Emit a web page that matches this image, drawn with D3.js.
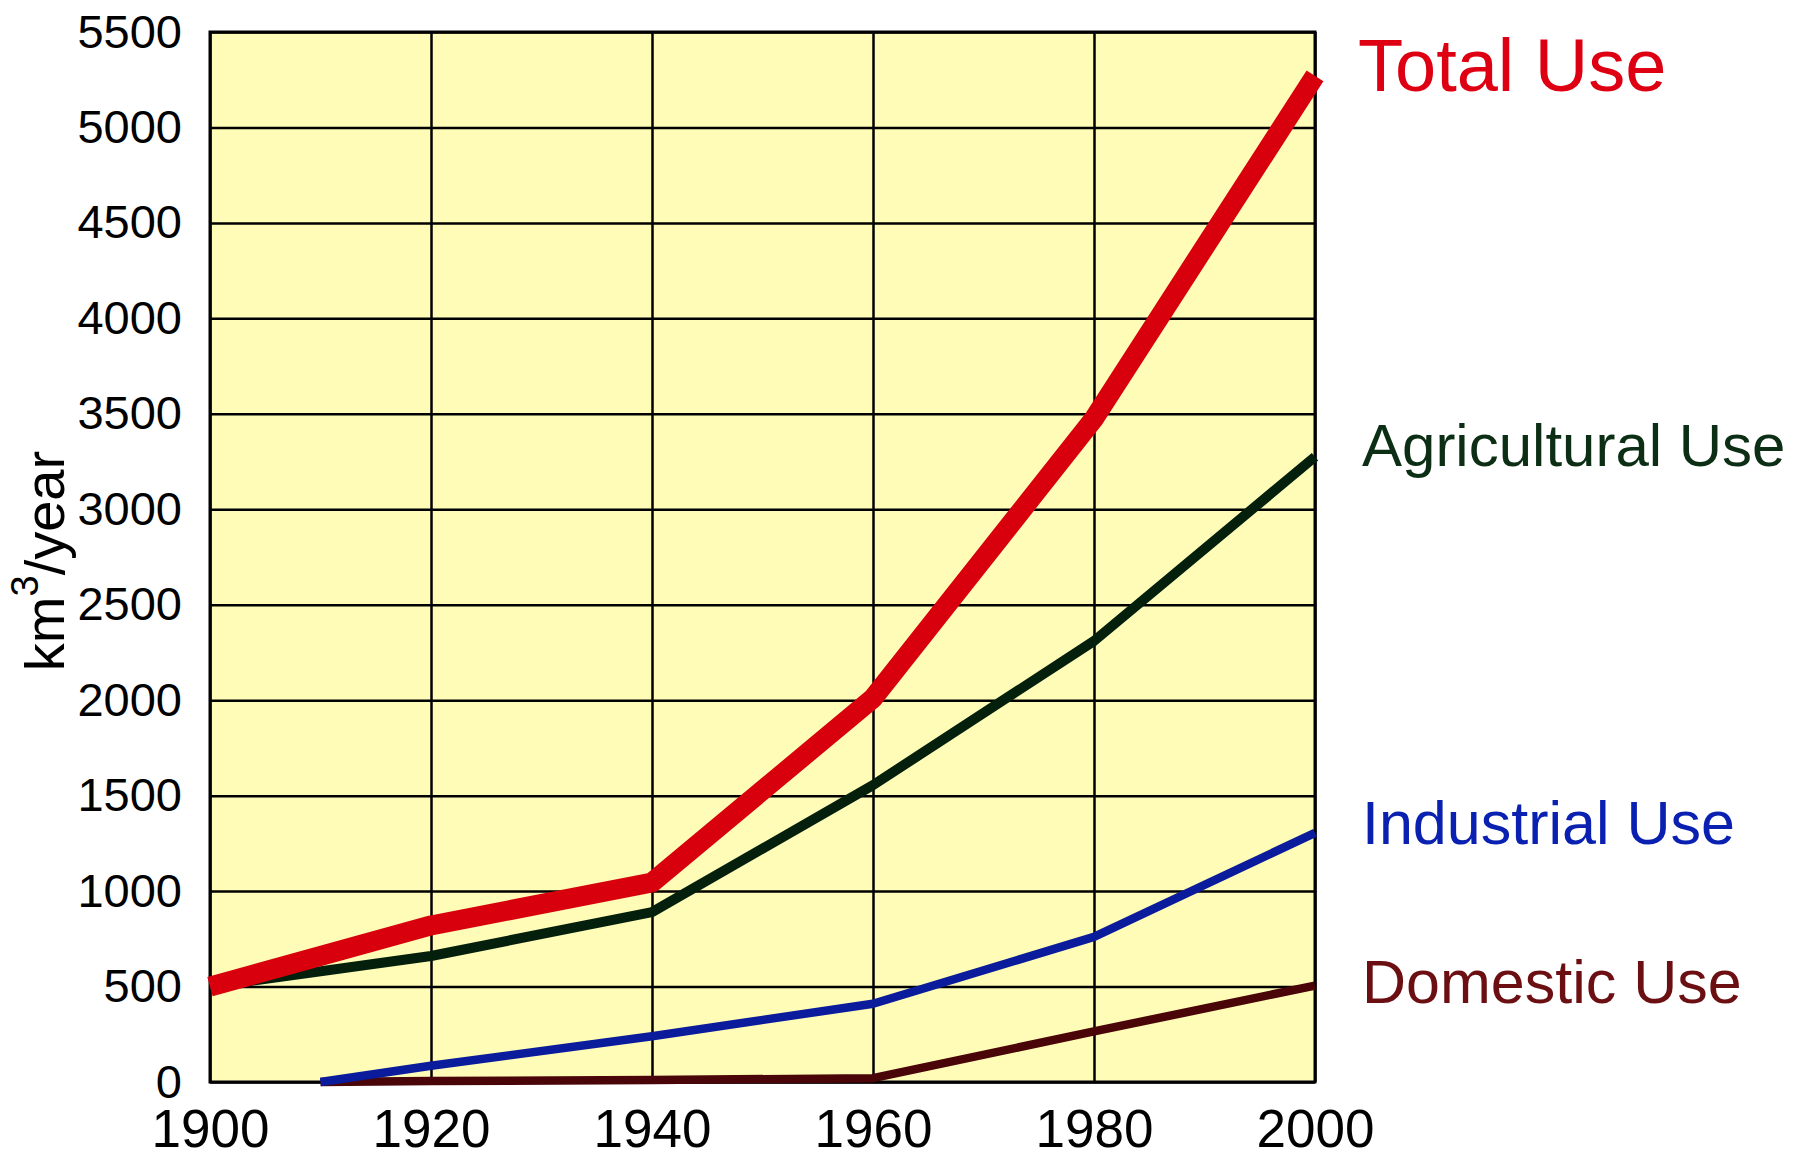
<!DOCTYPE html>
<html>
<head>
<meta charset="utf-8">
<script src="https://cdn.jsdelivr.net/npm/d3@7"></script>
<style>
    body { margin: 0; background: #ffffff; }
    text { font-family: "Liberation Sans", Arial, Helvetica, sans-serif; }
</style>
</head>
<body>
<div id="vis"></div>
<script>
// values (km3 per year)
const years = [1900, 1920, 1940, 1960, 1980, 2000];
const totalUse = [500, 820, 1045, 2010, 3475, 5270];
const agriculturalUse = [500, 660, 890, 1555, 2310, 3275];

// industrial and domestic only start at 1910
const laterYears = [1910, 1920, 1940, 1960, 1980, 2000];
const industrialUse = [0, 85, 240, 410, 760, 1305];
const domesticUse = [0, 5, 10, 20, 265, 505];

const yTicks = [0, 500, 1000, 1500, 2000, 2500, 3000, 3500, 4000, 4500, 5000, 5500];
const xTicks = [1900, 1920, 1940, 1960, 1980, 2000];

const seriesNames = ["Total Use", "Agricultural Use", "Industrial Use", "Domestic Use"];

function createVis() {
    const width = 1805;
    const height = 1159;
    const margin = {top: 32, right: 490, bottom: 77, left: 210};
    const innerW = width - margin.left - margin.right;
    const innerH = height - margin.top - margin.bottom;

    const svg = d3.select("#vis").append("svg")
        .attr("width", width)
        .attr("height", height);

    const xScale = d3.scaleLinear()
        .domain([1900, 2000])
        .range([margin.left, margin.left + innerW]);

    const yScale = d3.scaleLinear()
        .domain([0, 5500])
        .range([margin.top + innerH, margin.top]);

    // yellow plot area
    svg.append("rect")
        .attr("x", margin.left)
        .attr("y", margin.top)
        .attr("width", innerW)
        .attr("height", innerH)
        .attr("fill", "#fffcb8");

    // grid lines
    const xGrid = d3.axisBottom(xScale).tickValues(xTicks).tickSize(-innerH).tickFormat("");
    const yGrid = d3.axisLeft(yScale).tickValues(yTicks).tickSize(-innerW).tickFormat("");

    svg.append("g")
        .attr("transform", `translate(0,${margin.top + innerH})`)
        .call(xGrid)
        .call(g => g.select(".domain").remove())
        .call(g => g.selectAll("line").attr("stroke", "#000").attr("stroke-width", 2.5));

    svg.append("g")
        .attr("transform", `translate(${margin.left},0)`)
        .call(yGrid)
        .call(g => g.select(".domain").remove())
        .call(g => g.selectAll("line").attr("stroke", "#000").attr("stroke-width", 2.5));

    // frame
    svg.append("rect")
        .attr("x", margin.left)
        .attr("y", margin.top)
        .attr("width", innerW)
        .attr("height", innerH)
        .attr("fill", "none")
        .attr("stroke", "#000")
        .attr("stroke-width", 3);

    // tick labels
    const yAxis = d3.axisLeft(yScale).tickValues(yTicks).tickSize(0).tickPadding(28).tickFormat(d => d);
    svg.append("g")
        .attr("transform", `translate(${margin.left},0)`)
        .call(yAxis)
        .call(g => g.select(".domain").remove())
        .call(g => g.selectAll("text")
            .attr("font-size", "47px")
            .attr("fill", "#000")
            .style("font-family", "'Liberation Sans', Arial, sans-serif"));

    const xAxis = d3.axisBottom(xScale).tickValues(xTicks).tickSize(0).tickPadding(27).tickFormat(d => d);
    svg.append("g")
        .attr("transform", `translate(0,${margin.top + innerH})`)
        .call(xAxis)
        .call(g => g.select(".domain").remove())
        .call(g => g.selectAll("text")
            .attr("font-size", "53px")
            .attr("fill", "#000")
            .style("font-family", "'Liberation Sans', Arial, sans-serif"));

    // y axis title, rotated, with superscript 3
    const yTitle = svg.append("text")
        .attr("transform", "translate(64,561) rotate(-90)")
        .attr("text-anchor", "middle")
        .attr("font-size", "56px")
        .attr("fill", "#000");
    yTitle.append("tspan").text("km");
    yTitle.append("tspan").attr("font-size", "38px").attr("dy", -26).text("3");
    yTitle.append("tspan").attr("dy", 26).text("/year");

    // lines
    const line = d3.line()
        .x(d => xScale(d[0]))
        .y(d => yScale(d[1]));

    const series = [
        {name: seriesNames[0], years: years, values: totalUse, color: "#d8000d", width: 20, labelColor: "#de0012", size: 74, labelY: 91},
        {name: seriesNames[1], years: years, values: agriculturalUse, color: "#04200c", width: 10, labelColor: "#0b2e14", size: 60, labelY: 466},
        {name: seriesNames[2], years: laterYears, values: industrialUse, color: "#0a1c9c", width: 8.5, labelColor: "#0a20b0", size: 61, labelY: 844},
        {name: seriesNames[3], years: laterYears, values: domesticUse, color: "#4a0508", width: 8.5, labelColor: "#6b0f12", size: 61, labelY: 1003}
    ];

    // draw bottom series first so total sits on top
    series.slice().reverse().forEach(s => {
        svg.append("path")
            .datum(s.years.map((y, i) => [y, s.values[i]]))
            .attr("fill", "none")
            .attr("stroke", s.color)
            .attr("stroke-width", s.width)
            .attr("stroke-linejoin", "round")
            .attr("stroke-linecap", "butt")
            .attr("d", line);
    });

    // series labels to the right
    svg.selectAll(".series-label")
        .data(series)
        .join("text")
        .attr("class", "series-label")
        .attr("x", (d, i) => i === 0 ? 1358 : 1362)
        .attr("y", d => d.labelY)
        .attr("font-size", d => d.size + "px")
        .attr("fill", d => d.labelColor)
        .text(d => d.name);
}

window.addEventListener("load", createVis);
</script>
</body>
</html>
